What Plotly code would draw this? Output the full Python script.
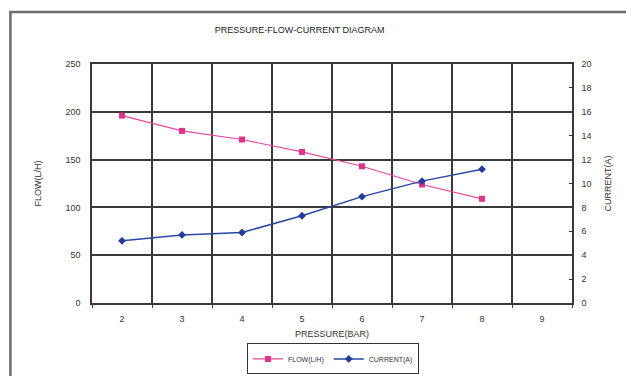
import plotly.graph_objects as go

pressure = [2, 3, 4, 5, 6, 7, 8]
flow = [196, 180, 171, 158, 143, 124, 109]
current = [5.2, 5.7, 5.9, 7.3, 8.9, 10.2, 11.2]
x_ticks = [2, 3, 4, 5, 6, 7, 8, 9]

FONT = "Liberation Sans, Arial, sans-serif"
GRID = "#3a3a3a"
TXT = "#333333"

fig = go.Figure()
fig.add_trace(go.Scatter(
    x=pressure, y=flow, name="FLOW(L/H)", mode="lines+markers",
    line=dict(color="#e8479a", width=1.2),
    marker=dict(symbol="square", size=6, color="#e0338c"),
))
fig.add_trace(go.Scatter(
    x=pressure, y=current, name="CURRENT(A)", mode="lines+markers", yaxis="y2",
    line=dict(color="#2947a6", width=1.5),
    marker=dict(symbol="diamond", size=6, color="#1f3c9e"),
))

fig.update_layout(
    width=626, height=368,
    margin=dict(l=84, r=62, t=56, b=73, autoexpand=False),
    paper_bgcolor="white", plot_bgcolor="white",
    font=dict(family=FONT, size=9, color=TXT),
    title=dict(text="PRESSURE-FLOW-CURRENT DIAGRAM", x=0.466, xanchor="center",
               y=0.94, yanchor="middle", font=dict(size=9, color="#222")),
    xaxis=dict(
        range=[1.5, 9.5], tickmode="array", tickvals=x_ticks,
        ticktext=[str(v) for v in x_ticks], automargin=False,
        showgrid=False, zeroline=False,
        showline=True, linecolor=GRID, linewidth=1.5, mirror=True,
        ticks="", ticklabelstandoff=6,
        minor=dict(tickmode="linear", tick0=1.5, dtick=1, showgrid=True,
                   gridcolor=GRID, gridwidth=1.5, ticks="outside", ticklen=3,
                   tickcolor=GRID),
        title=dict(text="PRESSURE(BAR)", standoff=8, font=dict(size=9)),
    ),
    yaxis=dict(
        range=[0, 250], tickmode="linear", tick0=0, dtick=50, automargin=False,
        showgrid=True, gridcolor=GRID, gridwidth=1.5, zeroline=False,
        showline=True, linecolor=GRID, linewidth=1.5, mirror=True,
        ticks="", ticklabelstandoff=8,
        title=dict(text="FLOW(L/H)", standoff=22, font=dict(size=9)),
    ),
    yaxis2=dict(
        range=[0, 20], tickmode="linear", tick0=0, dtick=2, automargin=False,
        overlaying="y", side="right", showgrid=False, zeroline=False,
        showline=True, linecolor=GRID, linewidth=1.5,
        ticks="inside", ticklen=3, tickcolor=GRID, ticklabelstandoff=6,
        title=dict(text="CURRENT(A)", standoff=14, font=dict(size=9)),
    ),
    legend=dict(orientation="h", x=0.502, xanchor="center", y=-0.234,
                yanchor="middle", bordercolor="#333", borderwidth=1,
                font=dict(size=7), tracegroupgap=0),
    showlegend=True,
)

# outer frame of the original picture (top and left edges visible)
fig.add_shape(type="rect", xref="paper", yref="paper",
              x0=-0.17, x1=1.12, ysizemode="pixel", yanchor=1, y0=-320, y1=52,
              line=dict(color="#6e6e6e", width=2.5), layer="above")

fig.write_html("out.html")
